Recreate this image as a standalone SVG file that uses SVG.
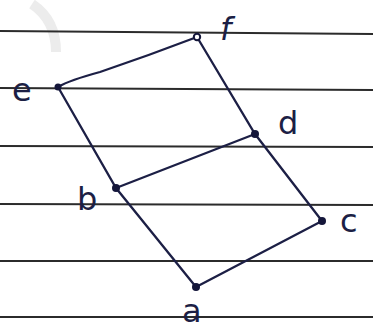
<svg xmlns="http://www.w3.org/2000/svg" width="373" height="329" viewBox="0 0 373 329">
<style>
.rule{stroke:#2b2b2b;stroke-width:1.8;fill:none}
.edge{stroke:#1c1f45;stroke-width:2.3;fill:none;stroke-linecap:round}
.dot{fill:#14163a}
.lbl{font-family:"DejaVu Sans","Liberation Sans",sans-serif;font-size:32px;fill:#1c1f45}
</style>
<rect width="373" height="329" fill="#ffffff"/>
<g id="paper">
<path d="M32 4 Q56 20 56 52" stroke="#ececec" stroke-width="10" fill="none"/>
<line class="rule" x1="0" y1="31" x2="373" y2="34"/>
<line class="rule" x1="0" y1="88" x2="373" y2="90"/>
<line class="rule" x1="0" y1="146" x2="373" y2="147"/>
<line class="rule" x1="0" y1="204" x2="373" y2="205"/>
<line class="rule" x1="0" y1="261" x2="373" y2="261"/>
<line class="rule" x1="0" y1="317" x2="373" y2="317"/>
</g>
<g id="connectors">
<path class="edge" d="M58 87 Q70 80 100 72 Q150 55 197 37"/>
<path class="edge" d="M197 37 L255 134 L322 221"/>
<path class="edge" d="M58 87 L116 188 L196 287"/>
<path class="edge" d="M116 188 L255 134"/>
<path class="edge" d="M196 287 L322 221"/>
</g>
<g id="node-f"><circle cx="197" cy="37" r="3.2" fill="#fff" stroke="#14163a" stroke-width="2"/><text class="lbl" x="220" y="40" font-style="italic">f</text></g>
<g id="node-e"><circle class="dot" cx="58" cy="87" r="3.5"/><text class="lbl" x="12" y="101">e</text></g>
<g id="node-d"><circle class="dot" cx="255" cy="134" r="4"/><text class="lbl" x="278" y="134">d</text></g>
<g id="node-b"><circle class="dot" cx="116" cy="188" r="4"/><text class="lbl" x="77" y="210">b</text></g>
<g id="node-c"><circle class="dot" cx="322" cy="221" r="4"/><text class="lbl" x="340" y="232">c</text></g>
<g id="node-a"><circle class="dot" cx="196" cy="287" r="4"/><text class="lbl" x="182" y="322">a</text></g>
</svg>
